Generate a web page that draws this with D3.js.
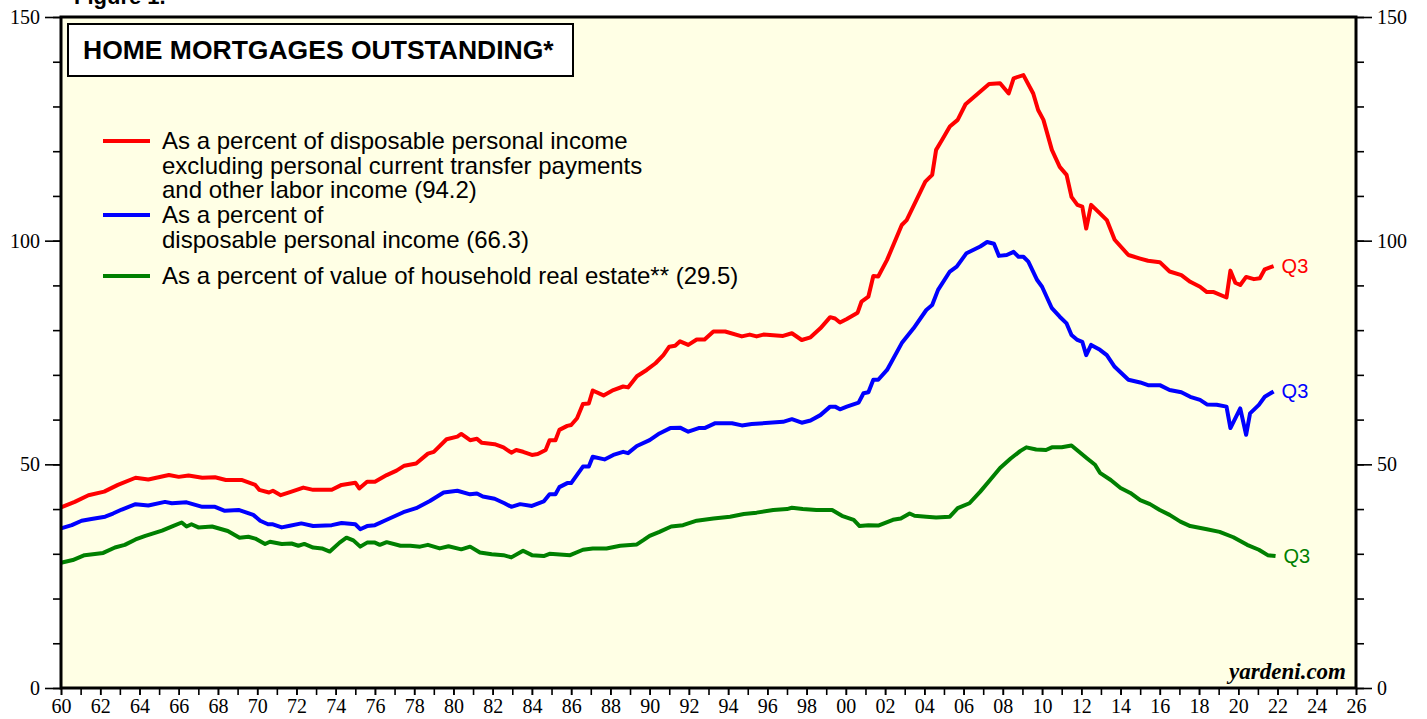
<!DOCTYPE html>
<html>
<head>
<meta charset="utf-8">
<script src="https://cdn.jsdelivr.net/npm/d3@7"></script>
<style>
  body { margin: 0; background: #fff; }
  svg { display: block; }
</style>
</head>
<body>
<div id="vis"></div>
<script>
var viewWidth = 1427;
var viewHeight = 719;

/* the plot frame */
var margin = {top: 17, right: 71, bottom: 31, left: 61};
var width = viewWidth - margin.left - margin.right;
var height = viewHeight - margin.top - margin.bottom;

// data (decimal years, percent)
var redYears = [1960.0, 1960.7, 1961.4, 1962.2, 1962.9, 1963.8, 1964.45, 1965.5, 1966.0, 1966.5, 1967.2, 1967.85, 1968.4, 1969.2, 1969.9, 1970.1, 1970.6, 1970.8, 1971.2, 1971.75, 1972.35, 1972.85, 1973.8, 1974.3, 1975.0, 1975.2, 1975.6, 1976.0,
  1976.6, 1977.1, 1977.5, 1978.1, 1978.7, 1979.0, 1979.65, 1980.2, 1980.4, 1980.85, 1981.2, 1981.45, 1982.1, 1982.55, 1982.95, 1983.2, 1983.55, 1984.0, 1984.3, 1984.7, 1984.9, 1985.2, 1985.4, 1985.8, 1986.0, 1986.3, 1986.6, 1986.9, 1987.1, 1987.65, 1988.15, 1988.65, 1988.9, 1989.35, 1989.85, 1990.3, 1990.7, 1991.0, 1991.3, 1991.55,
  1991.97, 1992.4, 1992.8, 1993.25, 1993.85, 1994.7, 1995.1, 1995.45, 1995.8, 1996.8, 1997.25, 1997.75, 1998.2, 1998.7, 1999.2, 1999.45, 1999.7, 2000.05, 2000.6, 2000.8, 2001.15, 2001.4, 2001.65, 2002.1, 2002.85, 2003.1, 2004.05, 2004.4, 2004.6,
  2004.9, 2005.3, 2005.7, 2006.1, 2006.5, 2006.9, 2007.3, 2007.86, 2008.3, 2008.55, 2009.05, 2009.55, 2009.8, 2010.07, 2010.5, 2010.9, 2011.25, 2011.5, 2011.8, 2012.05, 2012.25, 2012.5, 2012.95, 2013.3, 2013.7, 2014.4, 2015.0, 2015.4, 2016.0, 2016.5, 2017.1, 2017.55, 2018.05, 2018.4, 2018.75, 2019.4, 2019.6, 2019.85, 2020.1, 2020.4, 2020.8, 2021.1, 2021.35, 2021.8];
var redValues = [40.4, 41.6, 43.1, 43.9, 45.4, 47.0, 46.6, 47.6, 47.2, 47.5, 47.0, 47.1, 46.5, 46.5, 45.4, 44.3, 43.7, 44.1, 43.1, 43.9, 44.8, 44.3, 44.3, 45.4, 45.9, 44.6, 46.1, 46.1,
  47.6, 48.6, 49.7, 50.2, 52.4, 52.8, 55.6, 56.2, 56.8, 55.4, 55.7, 54.8, 54.5, 53.8, 52.6, 53.2, 52.8, 52.1, 52.3, 53.2, 55.4, 55.4, 57.7, 58.6, 58.8, 60.3, 63.5, 63.6, 66.5, 65.4, 66.6, 67.4, 67.2, 69.7, 71.1, 72.6, 74.4, 76.3, 76.5, 77.5,
  76.7, 77.9, 77.9, 79.7, 79.7, 78.6, 79.0, 78.6, 79.0, 78.7, 79.3, 77.8, 78.4, 80.4, 82.9, 82.6, 81.7, 82.5, 83.9, 86.4, 87.5, 92.1, 92.0, 95.7, 103.5, 104.6, 113.2, 114.7, 120.3,
  122.5, 125.5, 127.0, 130.5, 132.0, 133.5, 135.0, 135.2, 132.9, 136.3, 137.0, 132.9, 129.2, 127.0, 120.3, 116.5, 114.7, 109.8, 108.0, 107.6, 102.7, 108.0, 106.1, 104.6, 100.2, 96.8, 96.0, 95.5, 95.2, 93.1, 92.3, 90.8, 89.7, 88.5, 88.5, 87.3, 93.3, 90.6, 90.1, 91.9, 91.4, 91.6, 93.6, 94.3];

var blueYears = [1960.0, 1960.55, 1961.05, 1961.55, 1962.25, 1962.65, 1963.1, 1963.8, 1964.45, 1965.3, 1965.65, 1966.4, 1967.2, 1967.85, 1968.35, 1969.05, 1969.8, 1970.15, 1970.55, 1970.8, 1971.25, 1971.6, 1972.25, 1972.85, 1973.8, 1974.3, 1975.0, 1975.25, 1975.6, 1976.0,
  1976.6, 1977.45, 1978.1, 1978.8, 1979.5, 1980.2, 1980.85, 1981.2, 1981.5, 1982.1, 1982.6, 1982.95, 1983.4, 1984.0, 1984.6, 1984.9, 1985.2, 1985.4, 1985.8, 1986.0, 1986.6, 1986.9, 1987.1, 1987.7, 1988.15, 1988.65, 1988.9, 1989.35, 1990.0, 1990.5, 1991.05, 1991.55,
  1991.97, 1992.5, 1992.8, 1993.35, 1994.2, 1994.7, 1995.2, 1996.8, 1997.25, 1997.75, 1998.2, 1998.7, 1999.2, 1999.45, 1999.7, 2000.05, 2000.65, 2000.9, 2001.15, 2001.4, 2001.65, 2002.1, 2002.85, 2003.45, 2004.1, 2004.4, 2004.7, 2005.3, 2005.65, 2006.15, 2006.85,
  2007.2, 2007.55, 2007.8, 2008.2, 2008.55, 2008.8, 2009.05, 2009.3, 2009.75, 2010.0, 2010.5, 2010.9, 2011.25, 2011.5, 2011.8, 2012.05, 2012.25, 2012.5, 2012.95, 2013.3, 2013.7, 2014.4, 2015.0, 2015.4, 2016.0, 2016.5, 2017.1, 2017.55, 2018.05, 2018.4, 2018.9, 2019.4, 2019.6, 2020.1, 2020.4, 2020.6, 2021.05, 2021.35, 2021.8];
var blueValues = [35.7, 36.4, 37.4, 37.8, 38.3, 39.0, 39.9, 41.1, 40.8, 41.6, 41.3, 41.5, 40.5, 40.5, 39.6, 39.8, 38.7, 37.4, 36.6, 36.6, 35.9, 36.2, 36.8, 36.2, 36.4, 36.9, 36.6, 35.5, 36.2, 36.4,
  37.6, 39.3, 40.2, 41.8, 43.7, 44.1, 43.3, 43.5, 42.8, 42.3, 41.3, 40.5, 41.1, 40.7, 41.7, 43.3, 43.3, 44.9, 45.8, 45.8, 49.5, 49.5, 51.7, 51.1, 52.1, 52.8, 52.5, 54.1, 55.4, 56.9, 58.1, 58.2,
  57.3, 58.1, 58.1, 59.2, 59.2, 58.7, 59.0, 59.5, 60.1, 59.3, 59.8, 61.0, 62.9, 62.9, 62.3, 62.9, 63.8, 65.9, 66.1, 68.9, 68.9, 71.1, 77.1, 80.4, 84.5, 85.6, 89.0, 93.1, 94.2, 97.2, 98.7,
  99.7, 99.3, 96.6, 96.8, 97.5, 96.4, 96.4, 95.3, 91.2, 89.7, 84.9, 83.0, 81.5, 78.9, 77.8, 77.4, 74.4, 76.7, 75.6, 74.4, 71.8, 68.9, 68.3, 67.7, 67.7, 66.6, 66.1, 65.1, 64.4, 63.4, 63.3, 62.9, 58.1, 62.5, 56.6, 61.4, 63.3, 65.1, 66.3];

var greenYears = [1960.0, 1960.6, 1961.2, 1962.15, 1962.75, 1963.25, 1963.8, 1964.3, 1965.15, 1965.7, 1966.15, 1966.4, 1966.65, 1967.0, 1967.7, 1968.5, 1969.1, 1969.55, 1969.9, 1970.4, 1970.65, 1971.25, 1971.75, 1972.1, 1972.4, 1972.85, 1973.3, 1973.7, 1974.2, 1974.55, 1974.9, 1975.25, 1975.6, 1976.0,
  1976.25, 1976.6, 1977.3, 1977.8, 1978.3, 1978.7, 1979.3, 1979.75, 1980.4, 1980.85, 1981.35, 1981.95, 1982.55, 1982.95, 1983.55, 1984.0, 1984.6, 1984.9, 1985.95, 1986.6, 1987.1, 1987.8, 1988.5, 1989.35, 1989.7, 1990.0, 1990.5, 1991.1, 1991.7,
  1992.4, 1993.25, 1994.1, 1994.8, 1995.45, 1996.3, 1997.0, 1997.25, 1997.8, 1998.5, 1999.3, 1999.8, 2000.4, 2000.7, 2001.15, 2001.65, 2002.4, 2002.8, 2003.25, 2003.5, 2004.1, 2004.6, 2005.3, 2005.7, 2006.3, 2006.85,
  2007.35, 2007.86, 2008.4, 2008.9, 2009.2, 2009.7, 2010.2, 2010.5, 2011.0, 2011.5, 2012.3, 2012.7, 2012.95, 2013.5, 2014.0, 2014.5, 2015.0, 2015.5, 2016.0, 2016.5, 2017.05, 2017.55, 2018.4, 2019.05, 2019.75, 2020.45, 2021.05, 2021.5, 2021.9];
var greenValues = [28.0, 28.6, 29.7, 30.2, 31.4, 32.0, 33.2, 34.0, 35.2, 36.2, 37.0, 36.1, 36.6, 35.9, 36.1, 35.1, 33.6, 33.8, 33.4, 32.2, 32.7, 32.2, 32.3, 31.8, 32.2, 31.4, 31.2, 30.5, 32.5, 33.6, 33.0, 31.6, 32.5, 32.5,
  32.0, 32.6, 31.8, 31.8, 31.6, 32.0, 31.2, 31.7, 31.0, 31.6, 30.3, 29.9, 29.7, 29.2, 30.7, 29.7, 29.5, 30.0, 29.7, 30.9, 31.2, 31.2, 31.8, 32.1, 33.1, 34.0, 34.9, 36.1, 36.4,
  37.4, 37.9, 38.3, 38.9, 39.2, 39.8, 40.0, 40.3, 40.0, 39.8, 39.8, 38.5, 37.6, 36.2, 36.4, 36.3, 37.6, 37.9, 39.0, 38.5, 38.3, 38.1, 38.3, 40.2, 41.3, 43.9,
  46.5, 49.2, 51.3, 53.0, 53.8, 53.3, 53.2, 53.8, 53.8, 54.2, 51.3, 49.9, 48.1, 46.5, 44.7, 43.6, 42.0, 41.1, 39.8, 38.7, 37.2, 36.2, 35.5, 34.9, 33.7, 32.0, 30.9, 29.7, 29.5];

var yMajorTicks = [0, 50, 100, 150];
var xLabelYears = d3.range(1960, 2027, 2);

var legendLines = [
  ["As a percent of disposable personal income", "excluding personal current transfer payments", "and other labor income (94.2)"],
  ["As a percent of", "disposable personal income (66.3)"],
  ["As a percent of value of household real estate** (29.5)"]
];
var seriesColors = ["#ff0000", "#0000ff", "#008000"];

function zip(xs, ys) {
  return xs.map(function(x, i) { return {year: x, value: ys[i]}; });
}
var series = [zip(redYears, redValues), zip(blueYears, blueValues), zip(greenYears, greenValues)];

var svg = d3.select("#vis").append("svg")
  .attr("width", viewWidth)
  .attr("height", viewHeight);

/* scales */
var x = d3.scaleLinear().domain([1960, 2026]).range([margin.left, margin.left + width]);
var y = d3.scaleLinear().domain([0, 150]).range([margin.top + height, margin.top]);

/* figure label, cut off at the very top as in the original */
svg.append("text")
  .attr("x", 74).attr("y", 4)
  .attr("font-family", "Liberation Sans, Arial, sans-serif")
  .attr("font-weight", "bold")
  .attr("font-size", 22)
  .text("Figure 1.");

/* plot background */
svg.append("rect")
  .attr("x", margin.left).attr("y", margin.top)
  .attr("width", width).attr("height", height)
  .attr("fill", "#ffffe5");

/* axes: major ticks long, minor short */
var leftMinor = d3.axisLeft(y).tickValues(d3.range(0, 151, 10)).tickSize(8).tickFormat("");
var leftMajor = d3.axisLeft(y).tickValues(yMajorTicks).tickSize(16).tickPadding(5);
var rightMinor = d3.axisRight(y).tickValues(d3.range(0, 151, 10)).tickSize(8).tickFormat("");
var rightMajor = d3.axisRight(y).tickValues(yMajorTicks).tickSize(16).tickPadding(5);
var bottomTicks = d3.axisBottom(x).tickValues(d3.range(1960, 2027, 1)).tickSize(7).tickFormat("");
var bottomLabels = d3.axisBottom(x).tickValues(xLabelYears).tickSize(7).tickPadding(4)
  .tickFormat(function(d) { return d3.format("02")(d % 100); });

function styleAxis(g) {
  g.select(".domain").remove();
  g.selectAll("line").attr("stroke", "#000").attr("stroke-width", 1.6);
  g.selectAll("text")
    .attr("font-family", "Liberation Serif, Times New Roman, serif")
    .attr("font-size", 20)
    .attr("fill", "#000");
}

svg.append("g").attr("transform", "translate(" + margin.left + ",0)").call(leftMinor).call(styleAxis);
svg.append("g").attr("transform", "translate(" + margin.left + ",0)").call(leftMajor).call(styleAxis);
svg.append("g").attr("transform", "translate(" + (margin.left + width) + ",0)").call(rightMinor).call(styleAxis);
svg.append("g").attr("transform", "translate(" + (margin.left + width) + ",0)").call(rightMajor).call(styleAxis);
svg.append("g").attr("transform", "translate(0," + (margin.top + height) + ")").call(bottomTicks).call(styleAxis);
svg.append("g").attr("transform", "translate(0," + (margin.top + height) + ")").call(bottomLabels).call(styleAxis);

/* lines */
var line = d3.line()
  .x(function(d) { return x(d.year); })
  .y(function(d) { return y(d.value); });

series.forEach(function(s, i) {
  svg.append("path")
    .datum(s)
    .attr("fill", "none")
    .attr("stroke", seriesColors[i])
    .attr("stroke-width", 4)
    .attr("stroke-linejoin", "round")
    .attr("d", line);

  var last = s[s.length - 1];
  svg.append("text")
    .attr("x", x(last.year) + 8)
    .attr("y", y(last.value))
    .attr("dy", "0.35em")
    .attr("font-family", "Liberation Sans, Arial, sans-serif")
    .attr("font-size", 20)
    .attr("fill", seriesColors[i])
    .text("Q3");
});

/* frame */
svg.append("rect")
  .attr("x", margin.left).attr("y", margin.top)
  .attr("width", width).attr("height", height)
  .attr("fill", "none")
  .attr("stroke", "#000")
  .attr("stroke-width", 3);

/* title box */
svg.append("rect")
  .attr("x", 68).attr("y", 24)
  .attr("width", 505).attr("height", 52)
  .attr("fill", "#fff")
  .attr("stroke", "#000")
  .attr("stroke-width", 2);
svg.append("text")
  .attr("x", 83).attr("y", 59)
  .attr("font-family", "Liberation Sans, Arial, sans-serif")
  .attr("font-weight", "bold")
  .attr("font-size", 26.5)
  .text("HOME MORTGAGES OUTSTANDING*");

/* legend */
var legendTop = [141, 215, 276];
legendLines.forEach(function(lines, i) {
  svg.append("line")
    .attr("x1", 103).attr("x2", 150)
    .attr("y1", legendTop[i]).attr("y2", legendTop[i])
    .attr("stroke", seriesColors[i])
    .attr("stroke-width", 4);
  lines.forEach(function(t, j) {
    svg.append("text")
      .attr("x", 162)
      .attr("y", legendTop[i] + j * 24.5)
      .attr("dy", "0.35em")
      .attr("font-family", "Liberation Sans, Arial, sans-serif")
      .attr("font-size", 24)
      .attr("fill", "#000")
      .text(t);
  });
});

/* source */
svg.append("text")
  .attr("x", margin.left + width - 10)
  .attr("y", margin.top + height - 9)
  .attr("text-anchor", "end")
  .attr("font-family", "Liberation Serif, Times New Roman, serif")
  .attr("font-weight", "bold")
  .attr("font-style", "italic")
  .attr("font-size", 23)
  .text("yardeni.com");
</script>
</body>
</html>
